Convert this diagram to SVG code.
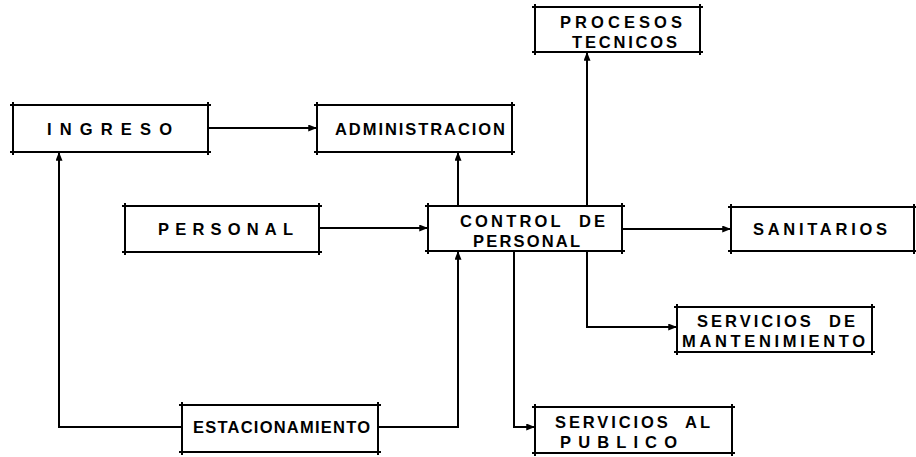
<svg xmlns="http://www.w3.org/2000/svg" width="916" height="457" viewBox="0 0 916 457">
<defs>
<marker id="ah" viewBox="0 0 10 8" refX="10" refY="4" markerWidth="9" markerHeight="7" markerUnits="userSpaceOnUse" orient="auto">
<path d="M0 0 L10 4 L0 8 Z" fill="#000"/>
</marker>
<style>
.box{fill:none;stroke:#000;stroke-width:2}
.lbl{font-family:"Liberation Sans",Arial,sans-serif;font-weight:bold;font-size:16.5px;fill:#000;white-space:pre}
.con{fill:none;stroke:#000;stroke-width:2}
</style>
</defs>
<rect width="916" height="457" fill="#fff"/>
<g id="ingreso">
<path class="box" d="M10 105H211M10 152H211M13 102V155M208 102V155"/>
<text class="lbl" x="47" y="135" textLength="125" lengthAdjust="spacing">INGRESO</text>
</g>
<g id="administracion">
<path class="box" d="M314 105H515M314 152H515M317 102V155M512 102V155"/>
<text class="lbl" x="335" y="135" textLength="170" lengthAdjust="spacing">ADMINISTRACION</text>
</g>
<g id="procesos">
<path class="box" d="M532 7H703M532 52H703M535 4V55M700 4V55"/>
<text class="lbl" x="560" y="28" textLength="122" lengthAdjust="spacing">PROCESOS</text>
<text class="lbl" x="572" y="48" textLength="105" lengthAdjust="spacing">TECNICOS</text>
</g>
<g id="personal">
<path class="box" d="M122 206H322M122 252H322M125 203V255M319 203V255"/>
<text class="lbl" x="158" y="235" textLength="135" lengthAdjust="spacing">PERSONAL</text>
</g>
<g id="control">
<path class="box" d="M425 206H625M425 251H625M428 203V254M622 203V254"/>
<text class="lbl" x="460" y="227" textLength="145" lengthAdjust="spacing" xml:space="preserve">CONTROL  DE</text>
<text class="lbl" x="473" y="247" textLength="107" lengthAdjust="spacing">PERSONAL</text>
</g>
<g id="sanitarios">
<path class="box" d="M728 207H916M728 251H916M731 204V254M914 204V254"/>
<text class="lbl" x="753" y="235" textLength="134" lengthAdjust="spacing">SANITARIOS</text>
</g>
<g id="mantenimiento">
<path class="box" d="M674 307H875M674 352H875M677 304V355M872 304V355"/>
<text class="lbl" x="697" y="327" textLength="158" lengthAdjust="spacing" xml:space="preserve">SERVICIOS  DE</text>
<text class="lbl" x="682" y="347" textLength="183" lengthAdjust="spacing">MANTENIMIENTO</text>
</g>
<g id="publico">
<path class="box" d="M532 407H735M532 453H735M535 404V456M732 404V456"/>
<text class="lbl" x="555" y="428" textLength="155" lengthAdjust="spacing" xml:space="preserve">SERVICIOS  AL</text>
<text class="lbl" x="560" y="448" textLength="117" lengthAdjust="spacing">PUBLICO</text>
</g>
<g id="estacionamiento">
<path class="box" d="M179 405H381M179 452H381M182 402V455M378 402V455"/>
<text class="lbl" x="193" y="433" textLength="177" lengthAdjust="spacing">ESTACIONAMIENTO</text>
</g>
<g id="connectors">
<path class="con" d="M208 128H317" marker-end="url(#ah)"/>
<path class="con" d="M319 228H428" marker-end="url(#ah)"/>
<path class="con" d="M458 206V152" marker-end="url(#ah)"/>
<path class="con" d="M587 206V52" marker-end="url(#ah)"/>
<path class="con" d="M622 229H731" marker-end="url(#ah)"/>
<path class="con" d="M587 251V327H677" marker-end="url(#ah)"/>
<path class="con" d="M514 251V427H535" marker-end="url(#ah)"/>
<path class="con" d="M182 427H59V152" marker-end="url(#ah)"/>
<path class="con" d="M378 427H458V251" marker-end="url(#ah)"/>
</g>
</svg>
